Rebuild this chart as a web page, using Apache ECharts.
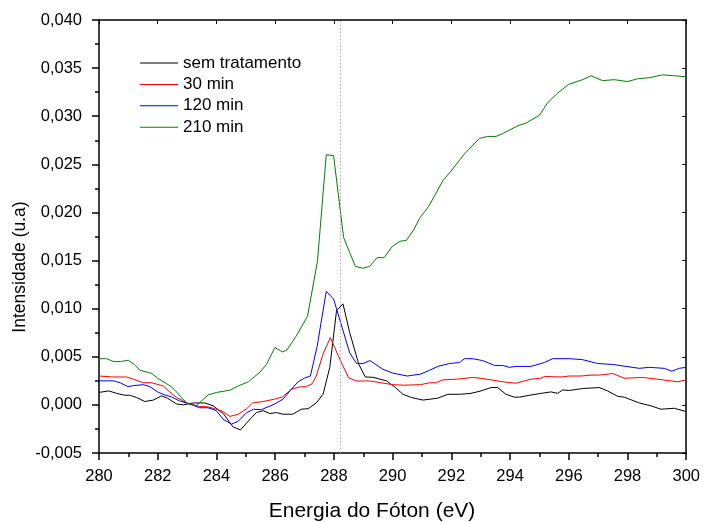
<!DOCTYPE html>
<html><head><meta charset="utf-8">
<script src="https://cdn.jsdelivr.net/npm/echarts@6/dist/echarts.min.js"></script>
<style>html,body{margin:0;padding:0;background:#fff}#c{width:703px;height:522px}</style>
</head><body><div id="c"></div>
<script>
const seriesNames = ['sem tratamento', '30 min', '120 min', '210 min'];
const seriesColors = ['#000000', '#ff0000', '#0000ff', '#008000'];
const xTitle = 'Energia do Fóton (eV)';
const yTitle = 'Intensidade (u.a)';
const refEnergy = 288.23;

const semE = [280,280.33,280.6,280.88,281.05,281.28,281.56,281.85,282.13,282.33,282.64,282.87,283.21,283.61,283.89,284.23,284.57,284.82,285.08,285.36,285.59,285.82,286.04,286.27,286.6,286.89,287.12,287.4,287.63,287.86,288.09,288.31,288.54,288.85,289.07,289.33,289.79,290.1,290.35,290.64,291.03,291.54,291.88,292.28,292.67,293.01,293.35,293.58,293.86,294.15,294.32,294.66,295.06,295.4,295.62,295.79,296.02,296.47,297.04,297.32,297.66,297.89,298.4,298.8,299.14,299.59,300];
const semI = [0.0013,0.00145,0.0012,0.0010,0.0010,0.00077,0.00035,0.0005,0.00094,0.0007,0.0001,0.0000,0.0002,0.0002,-0.0001,-0.0009,-0.0023,-0.0026,-0.0017,-0.0008,-0.0006,-0.0009,-0.0008,-0.00097,-0.00097,-0.00045,-0.0004,0.0002,0.0011,0.0039,0.0098,0.0105,0.0075,0.0042,0.0029,0.00287,0.0025,0.0018,0.0011,0.00077,0.0005,0.0007,0.0011,0.0011,0.0012,0.00145,0.0018,0.0018,0.0011,0.0008,0.0008,0.0010,0.0012,0.00135,0.0012,0.00155,0.0015,0.0017,0.0018,0.00145,0.0009,0.0008,0.0002,-0.0001,-0.00045,-0.00035,-0.0007];

const m30E = [280,280.5,280.94,281.17,281.51,281.79,282.19,282.41,282.64,283,283.43,283.71,284.17,284.46,284.74,285.03,285.23,285.59,285.99,286.25,286.56,286.84,287.07,287.26,287.4,287.63,287.88,288.2,288.5,288.77,289.22,289.6,290.0,290.4,290.95,291.26,291.48,291.71,292.17,292.73,293.07,293.75,294.2,294.71,295.05,295.17,295.74,296.02,296.42,296.76,297.04,297.5,297.89,298.52,299.2,299.71,300];
const m30I = [0.0030,0.0029,0.0029,0.00267,0.0023,0.0023,0.00197,0.00135,0.00077,0.0002,-0.00017,-0.0002,-0.0006,-0.0012,-0.00097,-0.0004,0.0002,0.00035,0.0006,0.00083,0.00163,0.00187,0.0019,0.0022,0.0030,0.00527,0.0070,0.00475,0.00283,0.00248,0.00249,0.0023,0.0021,0.00205,0.0021,0.0023,0.0023,0.0026,0.00267,0.00285,0.00274,0.0024,0.00225,0.00267,0.00277,0.00295,0.0029,0.0030,0.0030,0.0031,0.0031,0.00326,0.00277,0.00285,0.0026,0.0024,0.0026];

const m120E = [280,280.5,280.72,280.98,281.17,281.51,281.73,282.02,282.24,282.47,282.75,283,283.43,283.71,284,284.23,284.51,284.74,285.03,285.27,285.53,285.99,286.27,286.5,286.78,287.01,287.2,287.43,287.74,287.99,288.23,288.54,288.77,288.99,289.23,289.67,290.01,290.5,290.95,291.26,291.54,291.94,292.28,292.45,292.73,293.07,293.47,293.75,293.98,294.2,294.71,295.17,295.45,295.79,296.02,296.47,296.98,297.5,297.95,298.4,298.74,299.25,299.51,299.76,300];
const m120I = [0.0025,0.0025,0.0023,0.0019,0.0020,0.0021,0.0019,0.0013,0.00104,0.00083,0.0004,0.00018,-0.0003,-0.0003,-0.0006,-0.0015,-0.0020,-0.0017,-0.0008,-0.00045,-0.0005,0.0001,0.0006,0.00145,0.0024,0.0028,0.0030,0.0061,0.0118,0.0110,0.00855,0.0054,0.0043,0.0043,0.0046,0.0037,0.0033,0.0030,0.0032,0.0036,0.0040,0.0043,0.0044,0.0048,0.0048,0.0046,0.0041,0.0041,0.0039,0.0040,0.0040,0.0044,0.0048,0.0048,0.0048,0.0047,0.0043,0.0042,0.0040,0.0038,0.0039,0.0038,0.0035,0.0038,0.0039];

const m210E = [280,280.26,280.5,280.73,281,281.2,281.4,281.8,282.0,282.25,282.47,282.64,282.8,283.0,283.3,283.72,284.0,284.46,284.74,285.08,285.48,285.7,285.99,286.25,286.4,286.72,287.1,287.44,287.74,287.99,288.33,288.73,288.99,289.22,289.47,289.71,290.0,290.25,290.47,290.72,290.92,291.22,291.46,291.71,291.99,292.45,292.96,293.24,293.52,293.75,294.26,294.55,295.0,295.28,295.62,295.99,296.28,296.47,296.76,297.15,297.55,298.0,298.35,298.74,299.2,299.6,300];
const m210I = [0.0048,0.0048,0.0045,0.0045,0.00464,0.0042,0.0036,0.00326,0.00277,0.0023,0.00187,0.00135,0.00077,0.00018,-0.0001,0.00104,0.00129,0.00153,0.00197,0.00239,0.0034,0.0042,0.00596,0.0055,0.0057,0.00717,0.0092,0.0149,0.0260,0.0259,0.0174,0.0144,0.0142,0.0144,0.0153,0.0153,0.0165,0.0170,0.0171,0.0182,0.0194,0.0206,0.0219,0.0233,0.0243,0.0261,0.0277,0.0279,0.0279,0.0282,0.0290,0.0293,0.0301,0.0314,0.0324,0.0333,0.0336,0.0338,0.0342,0.0337,0.0338,0.0336,0.0339,0.0340,0.0343,0.0342,0.0341];

const xs = [semE, m30E, m120E, m210E];
const ys = [semI, m30I, m120I, m210I];
const zip = (a, b) => a.map((v, i) => [v, b[i]]);

const FONT = '"Liberation Sans", Arial, sans-serif';
const fmtY = v => v.toFixed(3).replace('.', ',');

const chart = echarts.init(document.getElementById('c'), null, {renderer: 'canvas'});
const axisLine = {show: true, onZero: false, lineStyle: {color: '#000', width: 1.5}};

const series = seriesNames.map((name, k) => ({
  name, type: 'line', xAxisIndex: 0, yAxisIndex: 0,
  data: zip(xs[k], ys[k]),
  symbol: 'none', showSymbol: false,
  lineStyle: {color: seriesColors[k], width: 1},
  itemStyle: {color: seriesColors[k]},
  emphasis: {disabled: true},
  z: 3
}));
series[0].markLine = {
  silent: true, symbol: 'none',
  label: {show: false},
  lineStyle: {type: [1.5, 2], color: '#a8a8a8', width: 1},
  data: [{xAxis: refEnergy}]
};

chart.setOption({
  animation: false,
  backgroundColor: '#fff',
  grid: {left: 99, right: 16, top: 20, bottom: 69, containLabel: false},
  legend: {
    orient: 'vertical', left: 135, top: 49.5,
    data: seriesNames, icon: 'rect', itemWidth: 38, itemHeight: 1, itemGap: 4.4,
    textStyle: {fontFamily: FONT, fontSize: 17, color: '#000', lineHeight: 17},
    selectedMode: false
  },
  graphic: [
    {type: 'text', x: 372, y: 511, style: {text: xTitle, font: '21px ' + FONT, fill: '#000', align: 'center', verticalAlign: 'middle'}},
    {type: 'text', x: 20, y: 267, rotation: Math.PI / 2, style: {text: yTitle, font: '17.5px ' + FONT, fill: '#000', align: 'center', verticalAlign: 'middle'}}
  ],
  xAxis: [{
    type: 'value', min: 280, max: 300, interval: 2, position: 'bottom',
    axisLine, splitLine: {show: false},
    axisTick: {show: true, inside: false, length: 7, lineStyle: {color: '#000', width: 1.5}},
    minorTick: {show: true, splitNumber: 2, length: 4, lineStyle: {color: '#000', width: 1.5}},
    axisLabel: {fontFamily: FONT, fontSize: 16.5, color: '#000', margin: 15}
  }, {
    type: 'value', min: 280, max: 300, interval: 2, position: 'top',
    axisLine, splitLine: {show: false},
    axisTick: {show: true, inside: true, length: 4, lineStyle: {color: '#000', width: 1}},
    axisLabel: {show: false}
  }],
  yAxis: [{
    type: 'value', min: -0.005, max: 0.04, interval: 0.005, position: 'left',
    axisLine, splitLine: {show: false},
    axisTick: {show: true, inside: false, length: 7, lineStyle: {color: '#000', width: 1.5}},
    minorTick: {show: true, splitNumber: 2, length: 4, lineStyle: {color: '#000', width: 1.5}},
    axisLabel: {fontFamily: FONT, fontSize: 16.5, color: '#000', margin: 17, formatter: fmtY}
  }, {
    type: 'value', min: -0.005, max: 0.04, interval: 0.005, position: 'right',
    axisLine, splitLine: {show: false},
    axisTick: {show: true, inside: true, length: 4, lineStyle: {color: '#000', width: 1}},
    axisLabel: {show: false}
  }],
  series
});
</script></body></html>
